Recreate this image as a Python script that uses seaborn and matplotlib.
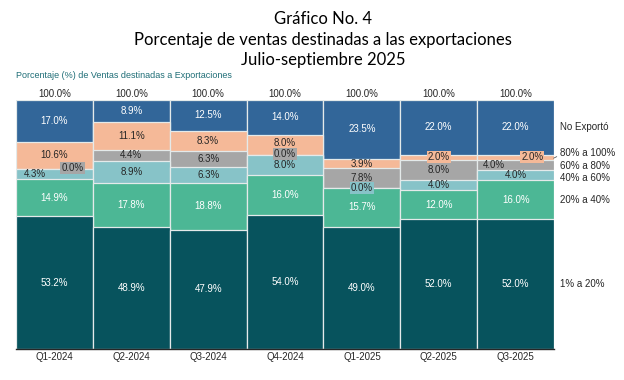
import pandas as pd
import numpy as np
import seaborn as sns
import matplotlib.pyplot as plt

quarters = ["Q1-2024", "Q2-2024", "Q3-2024", "Q4-2024", "Q1-2025", "Q2-2025", "Q3-2025"]
categories = ["1% a 20%", "20% a 40%", "40% a 60%", "60% a 80%", "80% a 100%", "No Exportó"]
p1_20 = [53.2, 48.9, 47.9, 54.0, 49.0, 52.0, 52.0]
p20_40 = [14.9, 17.8, 18.8, 16.0, 15.7, 12.0, 16.0]
p40_60 = [4.3, 8.9, 6.3, 8.0, 0.0, 4.0, 4.0]
p60_80 = [0.0, 4.4, 6.3, 0.0, 7.8, 8.0, 4.0]
p80_100 = [10.6, 11.1, 8.3, 8.0, 3.9, 2.0, 2.0]
no_export = [17.0, 8.9, 12.5, 14.0, 23.5, 22.0, 22.0]
totals = [100.0] * 7

colors = ["#07535D", "#4CB795", "#87C3C8", "#A6A6A6", "#F5B998", "#326699"]
text_colors = ["white", "white", "#262626", "#262626", "#262626", "white"]

series = [p1_20, p20_40, p40_60, p60_80, p80_100, no_export]
rows = []
for cat, vals in zip(categories, series):
    for q, v in zip(quarters, vals):
        rows.append({"quarter": q, "category": cat, "value": v})
df = pd.DataFrame(rows)
df["category"] = pd.Categorical(df["category"], categories, ordered=True)
df = df.sort_values(["quarter", "category"])
df["top"] = df.groupby("quarter")["value"].cumsum()
df["mid"] = df["top"] - df["value"] / 2

sns.set_theme(style="white")
plt.rcParams["font.family"] = ["Liberation Sans", "DejaVu Sans"]

fig = plt.figure(figsize=(6.24, 3.8), dpi=100)
ax = fig.add_axes([0.0256, 0.0816, 0.8624, 0.6554])

# draw cumulative tops from the top layer down so lower layers sit on top
for cat, col in reversed(list(zip(categories, colors))):
    sub = df[df["category"] == cat]
    sns.barplot(data=sub, x="quarter", y="top", order=quarters, color=col,
                saturation=1, width=1, edgecolor="#E4EAEA", linewidth=0.9, ax=ax)

# manual nudges for crowded labels: (quarter idx, category idx) -> (dx points, dy data)
nudges = {(0, 2): (-14, 0), (0, 3): (13, 0.2), (3, 3): (0, 0.2), (3, 4): (0, 0.6),
          (6, 3): (-16, 0), (6, 4): (12, 0)}
boxed = {(0, 3), (3, 3), (4, 2), (5, 4), (6, 4)}

for ci, cat in enumerate(categories):
    sub = df[df["category"] == cat].set_index("quarter").loc[quarters]
    for qi, (v, m) in enumerate(zip(sub["value"], sub["mid"])):
        dx, dy = nudges.get((qi, ci), (0, 0))
        bbox = None
        if (qi, ci) in boxed:
            bbox = dict(boxstyle="square,pad=0.1", fc=colors[ci], ec="none")
        ax.annotate(f"{v:.1f}%", xy=(qi, m + dy), xytext=(dx, 0), textcoords="offset points",
                    ha="center", va="center", fontsize=7, color=text_colors[ci], bbox=bbox)

for qi, t in enumerate(totals):
    ax.annotate(f"{t:.1f}%", xy=(qi, 100), xytext=(0, 0.8), textcoords="offset points",
                ha="center", va="bottom", fontsize=7, color="#262626", annotation_clip=False)

# right side category labels
right_y = [26.0, 60.0, 68.5, 73.5, 78.7, 89.0]
tr = ax.get_yaxis_transform()
for cat, y in zip(categories, right_y):
    if cat == "80% a 100%":
        ax.annotate(cat, xy=(0.999, 76.6), xycoords=tr, xytext=(1.011, y), textcoords=tr,
                    ha="left", va="center", fontsize=7, color="#262626", annotation_clip=False,
                    arrowprops=dict(arrowstyle="-", lw=0.6, color="#595959", shrinkA=0, shrinkB=0,
                                    relpos=(0, 0.3)))
    else:
        ax.text(1.011, y, cat, transform=tr, ha="left", va="center", fontsize=7, color="#262626")

ax.set_xlim(-0.5, 6.5)
ax.set_ylim(0, 100)
ax.set_xlabel("")
ax.set_ylabel("")
ax.set_yticks([])
ax.tick_params(axis="x", labelsize=7, colors="#262626", pad=2, length=0)
for s in ["top", "right", "left"]:
    ax.spines[s].set_visible(False)
ax.spines["bottom"].set_color("#262626")
ax.spines["bottom"].set_linewidth(1)

title_x = 0.518
fig.text(title_x, 0.95, "Gráfico No. 4", ha="center", va="center", fontsize=12, family="Lato", color="black")
fig.text(title_x, 0.895, "Porcentaje de ventas destinadas a las exportaciones", ha="center", va="center",
         fontsize=12, family="Lato", color="black")
fig.text(title_x, 0.843, "Julio-septiembre 2025", ha="center", va="center", fontsize=12, family="Lato", color="black")
fig.text(0.026, 0.8, "Porcentaje (%) de Ventas destinadas a Exportaciones", ha="left", va="center",
         fontsize=6.5, color="#1F6E77")

fig.savefig("out.png", dpi=100)
